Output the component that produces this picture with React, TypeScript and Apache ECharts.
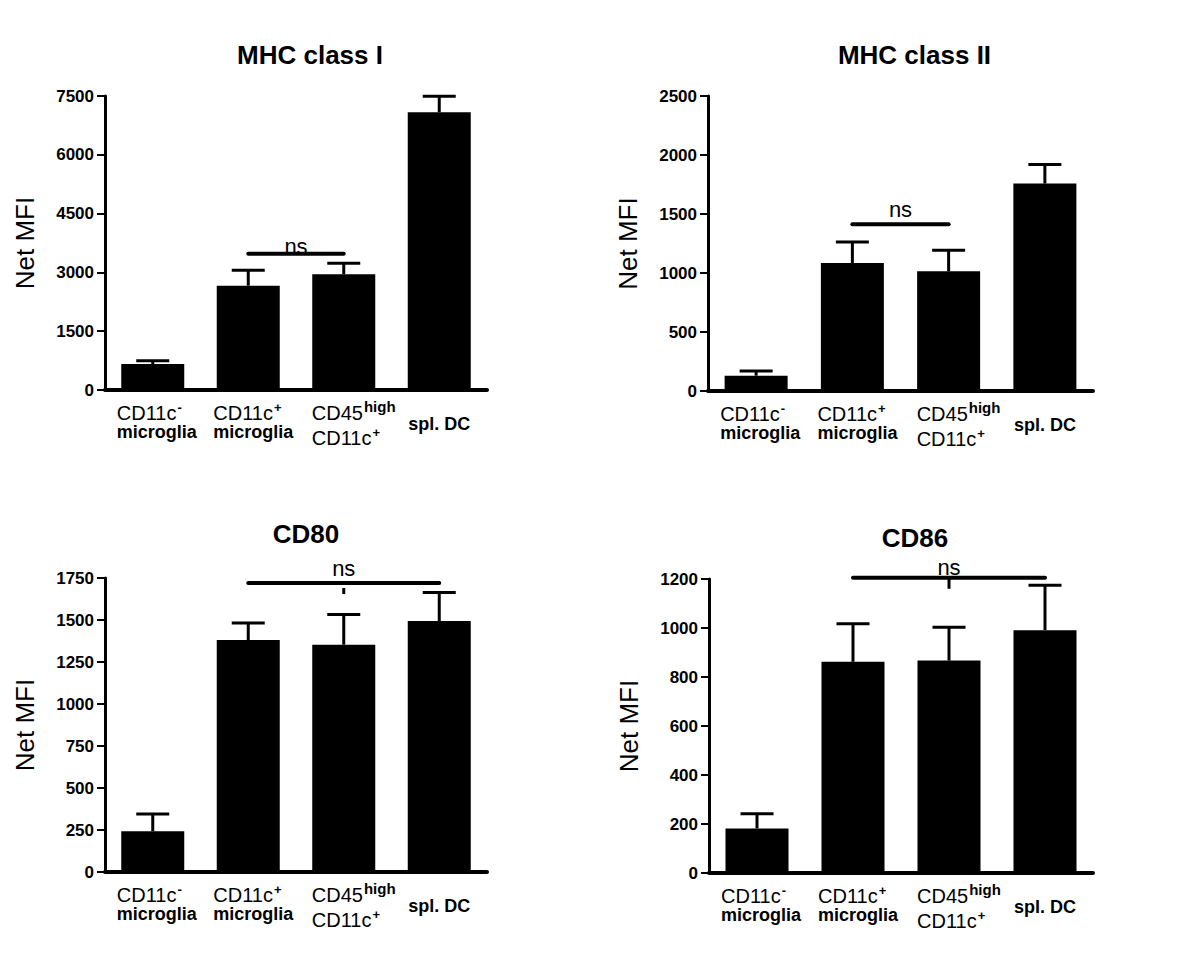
import React, { useEffect, useRef } from 'react';
import * as echarts from 'echarts';

// ---------- data ----------
const categories = ['CD11c- microglia', 'CD11c+ microglia', 'CD45high CD11c+', 'spl. DC'];
// each category label: lines of [text, style] pieces (style "sup"/"hi" = superscript)
const categoryLabelLines: [string, string][][][] = [
  [[['CD11c', 'n'], ['-', 'sup']], [['microglia', 'b']]],
  [[['CD11c', 'n'], ['+', 'sup']], [['microglia', 'b']]],
  [[['CD45', 'n'], ['high', 'hi']], [['CD11c', 'n'], ['+', 'sup']]],
  [[['spl. DC', 'b']]],
];

const titles = ['MHC class I', 'MHC class II', 'CD80', 'CD86'];
const yAxisName = 'Net MFI';
const sigLabel = 'ns';

const mhcIMean = [663, 2661, 2951, 7084];
const mhcISem = [84, 392, 281, 408];
const mhcITicks = [0, 1500, 3000, 4500, 6000, 7500];
const mhcISig = [1, 2, 3477];

const mhcIIMean = [130, 1085, 1014, 1758];
const mhcIISem = [40, 178, 178, 161];
const mhcIITicks = [0, 500, 1000, 1500, 2000, 2500];
const mhcIISig = [1, 2, 1413];

const cd80Mean = [242, 1381, 1353, 1494];
const cd80Sem = [103, 101, 179, 169];
const cd80Ticks = [0, 250, 500, 750, 1000, 1250, 1500, 1750];
const cd80Sig = [1, 3, 1720];

const cd86Mean = [182, 862, 867, 991];
const cd86Sem = [60, 155, 136, 183];
const cd86Ticks = [0, 200, 400, 600, 800, 1000, 1200];
const cd86Sig = [1, 3, 1205];

const panels = [
  { mean: mhcIMean, sem: mhcISem, ticks: mhcITicks, sig: mhcISig },
  { mean: mhcIIMean, sem: mhcIISem, ticks: mhcIITicks, sig: mhcIISig },
  { mean: cd80Mean, sem: cd80Sem, ticks: cd80Ticks, sig: cd80Sig },
  { mean: cd86Mean, sem: cd86Sem, ticks: cd86Ticks, sig: cd86Sig },
];

// ---------- layout / style ----------
const FONT_NAME = '"Liberation Sans"';
const FONT = '"Liberation Sans", Arial, Helvetica, sans-serif';
const grids = [
  { left: 105, top: 96, width: 382, height: 294 },
  { left: 708, top: 96, width: 385, height: 295 },
  { left: 105, top: 578, width: 382, height: 294 },
  { left: 709, top: 579, width: 384, height: 294 },
];
const titleY = [55, 55, 534, 538];
const titleDx = [14, 14, 10, 14];
const nsGap = [0, 7, 7, 3];
const midTick: (number[] | null)[] = [null, null, [5, 11], [0, 11]];
const labelDx = [-36, -35, -32, -31];
const labelBaselines = [[30, 48.5], [30, 48.5], [30, 55], [40]];
const pieceStyles: Record<string, { size: number; weight: string; raise: number; gap: number }> = {
  n: { size: 20, weight: 'normal', raise: 0, gap: 0 },
  b: { size: 18, weight: 'bold', raise: 0, gap: 0 },
  sup: { size: 13, weight: 'bold', raise: 8, gap: 1 },
  hi: { size: 15, weight: 'bold', raise: 8, gap: 1 },
};

let measureCtx: CanvasRenderingContext2D | null = null;
function textWidth(text: string, size: number, weight: string) {
  if (!measureCtx) measureCtx = document.createElement('canvas').getContext('2d');
  if (!measureCtx) return text.length * size * 0.55;
  measureCtx.font = `${weight} ${size}px ${FONT_NAME}, Arial, sans-serif`;
  return measureCtx.measureText(text).width;
}

function buildOption() {
  const xAxis: any[] = [];
  const yAxis: any[] = [];
  const series: any[] = [];
  const graphic: any[] = [];

  panels.forEach((p, k) => {
    const g = grids[k];
    const step = p.ticks[1] - p.ticks[0];
    xAxis.push({
      type: 'category',
      gridIndex: k,
      data: categories,
      axisLine: { lineStyle: { color: '#000', width: 4 } },
      axisTick: { show: false },
      axisLabel: { show: false },
    });
    yAxis.push({
      type: 'value',
      gridIndex: k,
      min: p.ticks[0],
      max: p.ticks[p.ticks.length - 1],
      interval: step,
      name: yAxisName,
      nameLocation: 'middle',
      nameGap: 67,
      nameRotate: 90,
      nameTextStyle: { fontSize: 26, color: '#000', fontFamily: FONT },
      axisLine: { show: true, lineStyle: { color: '#000', width: 3 } },
      axisTick: { show: true, length: 8, lineStyle: { color: '#000', width: 2 } },
      axisLabel: {
        fontSize: 17,
        fontWeight: 'bold',
        color: '#000',
        fontFamily: FONT,
        margin: 11,
        formatter: (v: number) => String(v),
      },
      splitLine: { show: false },
    });

    series.push({
      type: 'bar',
      xAxisIndex: k,
      yAxisIndex: k,
      data: p.mean,
      barWidth: 63,
      itemStyle: { color: '#000' },
      silent: true,
    });

    series.push({
      type: 'custom',
      xAxisIndex: k,
      yAxisIndex: k,
      silent: true,
      clip: false,
      encode: { x: 0, y: [1, 2] },
      data: p.mean.map((m, i) => [i, m, m + p.sem[i]]),
      renderItem: (params: any, api: any) => {
        const i = api.value(0);
        const a = api.coord([i, api.value(1)]);
        const b = api.coord([i, api.value(2)]);
        return {
          type: 'group',
          children: [
            { type: 'line', shape: { x1: a[0], y1: a[1], x2: b[0], y2: b[1] }, style: { stroke: '#000', lineWidth: 3 } },
            { type: 'line', shape: { x1: b[0] - 16.5, y1: b[1], x2: b[0] + 16.5, y2: b[1] }, style: { stroke: '#000', lineWidth: 3 } },
          ],
        };
      },
    });

    series.push({
      type: 'custom',
      xAxisIndex: k,
      yAxisIndex: k,
      silent: true,
      clip: false,
      encode: { x: [0, 1], y: 2 },
      data: [p.sig],
      renderItem: (params: any, api: any) => {
        const a = api.coord([api.value(0), api.value(2)]);
        const b = api.coord([api.value(1), api.value(2)]);
        const mx = (a[0] + b[0]) / 2;
        const children: any[] = [
          { type: 'line', shape: { x1: a[0], y1: a[1], x2: b[0], y2: b[1] }, style: { stroke: '#000', lineWidth: 4, lineCap: 'round' } },
          {
            type: 'text',
            x: mx,
            y: a[1] - nsGap[k] - 7.7,
            style: { text: sigLabel, fontSize: 22, fontFamily: FONT, fill: '#000', align: 'center', verticalAlign: 'middle' },
          },
        ];
        const t = midTick[k];
        if (t) {
          children.push({ type: 'line', shape: { x1: mx, y1: a[1] + t[0], x2: mx, y2: a[1] + t[1] }, style: { stroke: '#000', lineWidth: 3 } });
        }
        return { type: 'group', children };
      },
    });

    series.push({
      type: 'custom',
      xAxisIndex: k,
      yAxisIndex: k,
      silent: true,
      clip: false,
      encode: { x: 0, y: 1 },
      data: categories.map((_, i) => [i, 0]),
      renderItem: (params: any, api: any) => {
        const i = api.value(0);
        const pt = api.coord([i, 0]);
        const children: any[] = [];
        categoryLabelLines[i].forEach((line, li) => {
          let cx = pt[0] + labelDx[i];
          const base = pt[1] + labelBaselines[i][li];
          line.forEach(([txt, sn]) => {
            const s = pieceStyles[sn];
            cx += s.gap;
            children.push({
              type: 'text',
              x: cx,
              y: base - s.raise - 0.3465 * s.size,
              style: {
                text: txt,
                fontSize: s.size,
                fontWeight: s.weight,
                fontFamily: FONT,
                fill: '#000',
                align: 'left',
                verticalAlign: 'middle',
              },
            });
            cx += textWidth(txt, s.size, s.weight);
          });
        });
        return { type: 'group', children };
      },
    });

    graphic.push({
      type: 'text',
      x: g.left + g.width / 2 + titleDx[k],
      y: titleY[k],
      style: { text: titles[k], fontSize: 26, fontWeight: 'bold', fontFamily: FONT, fill: '#000', align: 'center', verticalAlign: 'middle' },
    });
  });

  return {
    animation: false,
    backgroundColor: '#fff',
    grid: grids.map((g) => ({ ...g, containLabel: false })),
    xAxis,
    yAxis,
    series,
    graphic,
  };
}

export default function App() {
  const ref = useRef<HTMLDivElement>(null);
  useEffect(() => {
    if (!ref.current) return;
    const chart = echarts.init(ref.current, undefined, { renderer: 'svg' });
    chart.setOption(buildOption() as any);
    return () => chart.dispose();
  }, []);
  return <div ref={ref} style={{ position: 'fixed', left: 0, top: 0, width: 1200, height: 963, background: '#fff' }} />;
}
